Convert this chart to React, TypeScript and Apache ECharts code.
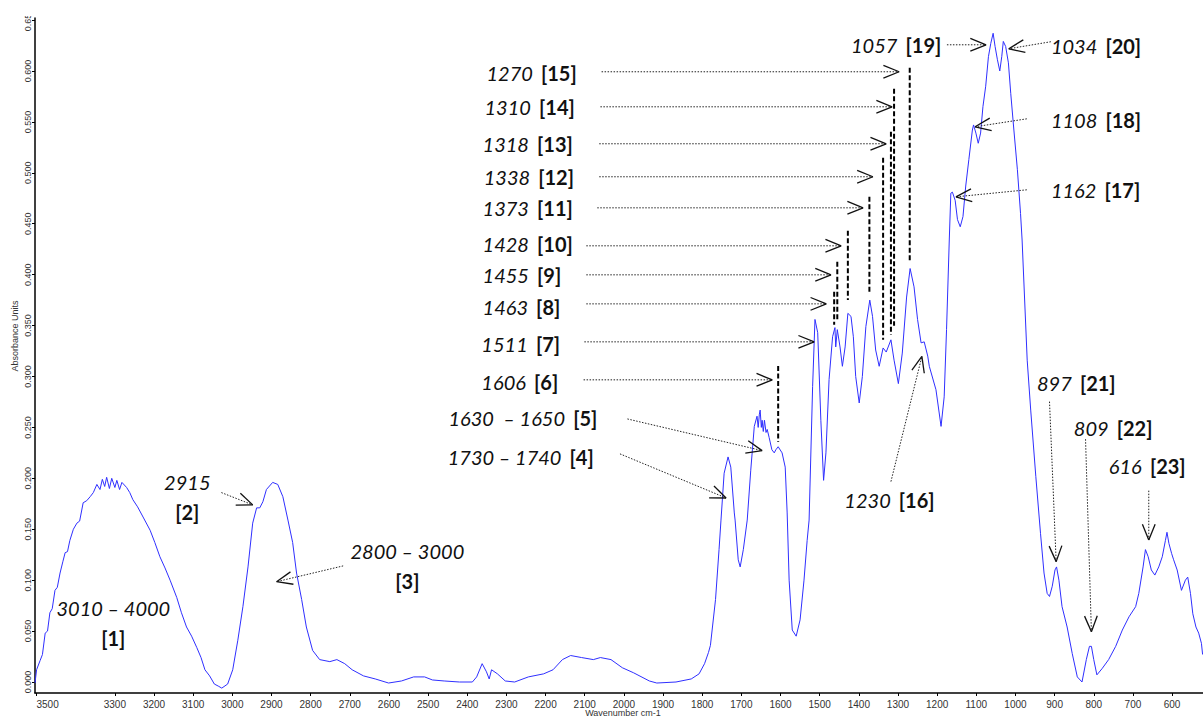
import React, { useEffect, useRef } from "react";
import * as echarts from "echarts";

// ---- spectrum (wavenumber cm-1, absorbance units) ----
const wavenumbers = [
  3504, 3500, 3491, 3485, 3478, 3472, 3466, 3460, 3453, 3447, 3440, 3433, 3427, 3421, 3415, 3406, 3397, 3390, 3381, 3372,
  3363, 3355, 3346, 3338, 3332, 3326, 3321, 3314, 3308, 3300, 3295, 3288, 3282, 3270, 3262, 3254, 3242, 3228, 3210, 3198,
  3185, 3172, 3159, 3142, 3130, 3117, 3104, 3091, 3080, 3070, 3058, 3046, 3036, 3027, 3012, 2999, 2986, 2973, 2960, 2948,
  2938, 2930, 2922, 2913, 2897, 2884, 2871, 2858, 2846, 2836, 2823, 2811, 2795, 2777, 2751, 2733, 2713, 2694, 2665, 2635,
  2601, 2568, 2537, 2509, 2489, 2459, 2420, 2387, 2376, 2362, 2351, 2344, 2338, 2323, 2303, 2279, 2244, 2205, 2181, 2157,
  2136, 2108, 2078, 2060, 2033, 2004, 1975, 1935, 1916, 1867, 1828, 1808, 1794, 1784, 1779, 1766, 1757, 1752, 1744, 1734,
  1727, 1718, 1716, 1708, 1703, 1695, 1685, 1676, 1667, 1660, 1657, 1654, 1652, 1649, 1647, 1644, 1641, 1637, 1634, 1629,
  1622, 1616, 1612, 1606, 1596, 1588, 1583, 1578, 1570, 1560, 1550, 1540, 1532, 1527, 1518, 1512, 1505, 1497, 1490, 1484,
  1476, 1467, 1461, 1459, 1455, 1448, 1442, 1435, 1428, 1420, 1414, 1408, 1399, 1391, 1382, 1372, 1365, 1357, 1348, 1338,
  1330, 1318, 1310, 1299, 1289, 1278, 1269, 1259, 1250, 1241, 1233, 1224, 1220, 1203, 1190, 1182, 1176, 1169, 1165, 1161,
  1154, 1148, 1141, 1134, 1127, 1119, 1110, 1107, 1101, 1095, 1089, 1083, 1076, 1069, 1063, 1057, 1052, 1046, 1040, 1035,
  1031, 1025, 1018, 1012, 1004, 995, 987, 983, 970, 961, 948, 936, 927, 919, 913, 906, 899, 895, 889, 881,
  868, 855, 842, 830, 819, 811, 806, 800, 792, 779, 762, 744, 727, 710, 693, 685, 674, 668, 661, 653,
  644, 634, 625, 617, 613, 608, 601, 596, 587, 576, 566, 560, 553, 547, 539, 532, 525, 522,
];
const absorbance = [
  -0.001, 0.012, 0.021, 0.027, 0.048, 0.05, 0.068, 0.072, 0.09, 0.093, 0.107, 0.118, 0.127, 0.128, 0.139, 0.15, 0.156, 0.158, 0.176, 0.178,
  0.182, 0.186, 0.194, 0.189, 0.199, 0.192, 0.201, 0.19, 0.2, 0.191, 0.198, 0.189, 0.196, 0.191, 0.186, 0.179, 0.172, 0.162, 0.149, 0.137,
  0.123, 0.112, 0.1, 0.083, 0.068, 0.054, 0.045, 0.034, 0.024, 0.012, 0.006, -0.002, -0.004, -0.006, -0.002, 0.012, 0.041, 0.074, 0.113, 0.156,
  0.171, 0.171, 0.177, 0.189, 0.196, 0.194, 0.182, 0.159, 0.137, 0.107, 0.081, 0.054, 0.031, 0.022, 0.02, 0.022, 0.018, 0.012, 0.006, 0.003,
  -0.001, 0.001, 0.005, 0.005, 0.002, 0.001, 0.0, 0.0, 0.005, 0.018, 0.01, 0.003, 0.012, 0.008, 0.001, 0.0, 0.005, 0.008, 0.012, 0.022,
  0.026, 0.024, 0.022, 0.024, 0.022, 0.014, 0.009, 0.001, -0.001, 0.0, 0.003, 0.008, 0.018, 0.029, 0.036, 0.081, 0.13, 0.159, 0.205, 0.221,
  0.211, 0.166, 0.159, 0.12, 0.113, 0.13, 0.159, 0.208, 0.251, 0.261, 0.25, 0.263, 0.267, 0.25, 0.257, 0.246, 0.257, 0.245, 0.248, 0.24,
  0.228, 0.225, 0.228, 0.231, 0.225, 0.211, 0.166, 0.1, 0.051, 0.045, 0.061, 0.1, 0.139, 0.159, 0.29, 0.356, 0.343, 0.257, 0.198, 0.225,
  0.297, 0.339, 0.348, 0.329, 0.346, 0.329, 0.31, 0.329, 0.362, 0.359, 0.339, 0.3, 0.274, 0.3, 0.349, 0.375, 0.359, 0.326, 0.31, 0.328,
  0.324, 0.336, 0.316, 0.293, 0.323, 0.378, 0.406, 0.388, 0.356, 0.333, 0.334, 0.32, 0.31, 0.287, 0.251, 0.28, 0.346, 0.434, 0.48, 0.481,
  0.473, 0.454, 0.447, 0.457, 0.487, 0.513, 0.542, 0.547, 0.539, 0.529, 0.539, 0.565, 0.585, 0.614, 0.627, 0.637, 0.624, 0.611, 0.6, 0.614,
  0.629, 0.624, 0.608, 0.578, 0.542, 0.503, 0.46, 0.434, 0.316, 0.267, 0.202, 0.146, 0.107, 0.087, 0.084, 0.094, 0.11, 0.113, 0.1, 0.074,
  0.054, 0.028, 0.005, 0.0, 0.022, 0.035, 0.035, 0.022, 0.007, 0.013, 0.022, 0.035, 0.051, 0.064, 0.074, 0.087, 0.113, 0.13, 0.123, 0.11,
  0.105, 0.113, 0.123, 0.139, 0.147, 0.136, 0.126, 0.12, 0.11, 0.09, 0.1, 0.103, 0.087, 0.067, 0.054, 0.048, 0.038, 0.027,
];

// ---- axis ticks ----
const xTickValues = [3500, 3300, 3200, 3100, 3000, 2900, 2800, 2700, 2600, 2500, 2400, 2300, 2200, 2100, 2000, 1900, 1800, 1700, 1600, 1500, 1400, 1300, 1200, 1100, 1000, 900, 800, 700, 600];
const yTickValues = [0, 0.05, 0.1, 0.15, 0.2, 0.25, 0.3, 0.35, 0.4, 0.45, 0.5, 0.55, 0.6, 0.65];
const xAxisTitle = "Wavenumber cm-1";
const yAxisTitle = "Absorbance Units";

// ---- band annotations ----
const bandNumbers = [
  "3010 – 4000", "2915", "2800 – 3000", "1730 – 1740", "1630  – 1650", "1606", "1511", "1463", "1455", "1428", "1373",
  "1338", "1318", "1310", "1270", "1230", "1162", "1108", "1057", "1034", "897", "809", "616",
];
const bandTags = bandNumbers.map((_, i) => `[${i + 1}]`);
const dashedBands = [1606, 1463, 1455, 1428, 1373, 1338, 1318, 1310, 1270];

// layout of the annotations, in data coordinates [wavenumber, absorbance]
const labelAnchors: [number, number, string][] = [
  [3304, 0.0575, "center"], [3115, 0.1817, "center"], [2553, 0.114, "center"],
  [2450, 0.2213, "left"], [2448, 0.2593, "left"], [2364, 0.2947, "left"], [2364, 0.332, "left"],
  [2361, 0.3684, "left"], [2361, 0.3998, "left"], [2361, 0.4303, "left"], [2361, 0.4656, "left"],
  [2358, 0.4961, "left"], [2361, 0.5285, "left"], [2356, 0.5648, "left"], [2351, 0.5982, "left"],
  [1437, 0.1788, "left"], [909.5, 0.4833, "left"], [909.5, 0.552, "left"], [1420, 0.6257, "left"],
  [909.5, 0.6248, "left"], [945, 0.2937, "left"], [851, 0.2495, "left"], [761.5, 0.2122, "left"],
];
const stackedLabels = [0, 1, 2];
const arrowSpans: [number, number, number, number][] = [
  [3028, 0.186, 2948, 0.1739], [2717, 0.114, 2887, 0.0985], [2010, 0.224, 1739, 0.1807],
  [1991, 0.2583, 1647, 0.2272], [2103, 0.2967, 1621, 0.2967], [2101, 0.334, 1514, 0.334],
  [2096, 0.3713, 1483, 0.3713], [2096, 0.3998, 1471, 0.3998], [2096, 0.4283, 1445, 0.4283],
  [2068, 0.4656, 1389, 0.4656], [2063, 0.4961, 1364, 0.4961], [2063, 0.5285, 1330, 0.5285],
  [2060, 0.5648, 1315, 0.5648], [2057, 0.5992, 1297, 0.5992], [1318, 0.1968, 1239, 0.3197],
  [971, 0.4833, 1152, 0.4764], [971, 0.553, 1103, 0.5452], [1175, 0.6257, 1075, 0.6257],
  [909.5, 0.6287, 1017, 0.6218], [913, 0.2753, 896, 0.1182], [821, 0.2384, 806, 0.0494],
  [659.5, 0.1879, 659.5, 0.1395],
];
const dashedSpans: [number, number][] = [
  [0.3104, 0.2358], [0.3831, 0.3507], [0.4126, 0.3556], [0.443, 0.3752], [0.4764, 0.3831],
  [0.5147, 0.336], [0.5403, 0.3409], [0.5825, 0.3497], [0.6031, 0.4126],
];

const ANN_FONT = "Lato, 'Open Sans', sans-serif";
const AXIS_FONT = "'Liberation Sans', Arial, sans-serif";
const ANN_SIZE = 20;

export default function App() {
  const ref = useRef<HTMLDivElement>(null);
  useEffect(() => {
    document.body.style.margin = "0";
    const chart = echarts.init(ref.current!, null, { renderer: "svg" });
    chart.setOption({
      animation: false,
      backgroundColor: "#ffffff",
      grid: { left: 35, right: 0, top: 18, bottom: 25, containLabel: false },
      xAxis: {
        type: "value",
        inverse: true,
        min: 521,
        max: 3504,
        axisLine: { show: true, onZero: false, lineStyle: { color: "#000", width: 1.5 } },
        axisTick: { show: true, customValues: xTickValues, length: 3, lineStyle: { color: "#000" } },
        axisLabel: {
          customValues: xTickValues,
          fontSize: 10,
          color: "#333",
          margin: 6,
          fontFamily: AXIS_FONT,
          formatter: (v: number) => (v === xTickValues[0] ? `{p|${v}}` : String(v)),
          rich: { p: { padding: [0, 0, 0, 22], fontSize: 10, color: "#333", fontFamily: AXIS_FONT } },
        },
        splitLine: { show: false },
      },
      yAxis: {
        type: "value",
        min: -0.0108,
        max: 0.652,
        axisLine: { show: true, onZero: false, lineStyle: { color: "#000", width: 1.5 } },
        axisTick: { show: true, customValues: yTickValues, length: 3, lineStyle: { color: "#000" } },
        axisLabel: {
          customValues: yTickValues,
          rotate: 90,
          fontSize: 9,
          color: "#333",
          margin: 3,
          fontFamily: AXIS_FONT,
          formatter: (v: number) => v.toFixed(3),
        },
        splitLine: { show: false },
      },
      series: [
        {
          type: "line",
          data: wavenumbers.map((w, i) => [w, absorbance[i]]),
          showSymbol: false,
          symbol: "none",
          lineStyle: { color: "#2f2fff", width: 1 },
          clip: true,
        },
      ],
    });

    const px = (w: number, v: number) => chart.convertToPixel({ gridIndex: 0 }, [w, v]) as number[];
    const g: any[] = [];
    const rich = {
      i: { fontStyle: "italic", fontSize: ANN_SIZE, fontFamily: ANN_FONT, fill: "#111", lineHeight: 30 },
      b: { fontWeight: "bold", fontSize: ANN_SIZE, fontFamily: ANN_FONT, fill: "#111", lineHeight: 30, padding: [0, 0, 0, 3] },
      bc: { fontWeight: "bold", fontSize: ANN_SIZE, fontFamily: ANN_FONT, fill: "#111", lineHeight: 30 },
    };

    // dashed reference lines
    dashedBands.forEach((w, k) => {
      const [x1, y1] = px(w, dashedSpans[k][0]);
      const [, y2] = px(w, dashedSpans[k][1]);
      g.push({
        type: "line",
        silent: true,
        z: 20,
        shape: { x1, y1, x2: x1, y2 },
        style: { stroke: "#000", lineWidth: 2, lineDash: [5, 2.5] },
      });
    });

    // arrows: dotted shaft + open head
    arrowSpans.forEach(([fw, fv, tw, tv]) => {
      const [x1, y1] = px(fw, fv);
      const [x2, y2] = px(tw, tv);
      g.push({
        type: "line",
        silent: true,
        z: 20,
        shape: { x1, y1, x2, y2 },
        style: { stroke: "#222", lineWidth: 1, lineDash: [1.5, 1.5] },
      });
      const len = Math.hypot(x2 - x1, y2 - y1) || 1;
      const dx = (x2 - x1) / len;
      const dy = (y2 - y1) / len;
      const L = 17;
      const th = (22 * Math.PI) / 180;
      [th, -th].forEach((a) => {
        const rx = dx * Math.cos(a) - dy * Math.sin(a);
        const ry = dx * Math.sin(a) + dy * Math.cos(a);
        g.push({
          type: "line",
          silent: true,
          z: 21,
          shape: { x1: x2, y1: y2, x2: x2 - rx * L, y2: y2 - ry * L },
          style: { stroke: "#111", lineWidth: 1.3 },
        });
      });
    });

    // band labels
    bandNumbers.forEach((num, i) => {
      const [w, v, align] = labelAnchors[i];
      const [x, y] = px(w, v);
      const stacked = stackedLabels.includes(i);
      g.push({
        type: "text",
        silent: true,
        z: 22,
        x,
        y,
        style: {
          text: stacked ? `{i|${num}}\n{bc|${bandTags[i]}}` : `{i|${num}} {b|${bandTags[i]}}`,
          rich,
          fontSize: ANN_SIZE,
          fontFamily: ANN_FONT,
          fill: "#111",
          align,
          verticalAlign: "middle",
        },
      });
    });

    // axis titles
    g.push({
      type: "text",
      silent: true,
      x: 15,
      y: 336,
      rotation: Math.PI / 2,
      style: { text: yAxisTitle, fontSize: 9, fontFamily: AXIS_FONT, fill: "#333", align: "center", verticalAlign: "middle" },
    });
    g.push({
      type: "text",
      silent: true,
      x: 623,
      y: 713,
      style: { text: xAxisTitle, fontSize: 9, fontFamily: AXIS_FONT, fill: "#333", align: "center", verticalAlign: "middle" },
    });
    // clip the topmost tick label like the original export
    g.push({
      type: "rect",
      silent: true,
      z: 100,
      shape: { x: 0, y: 0, width: 33, height: 16 },
      style: { fill: "#ffffff" },
    });

    chart.setOption({ graphic: g });
    return () => chart.dispose();
  }, []);
  return <div ref={ref} style={{ width: 1203, height: 718 }} />;
}
